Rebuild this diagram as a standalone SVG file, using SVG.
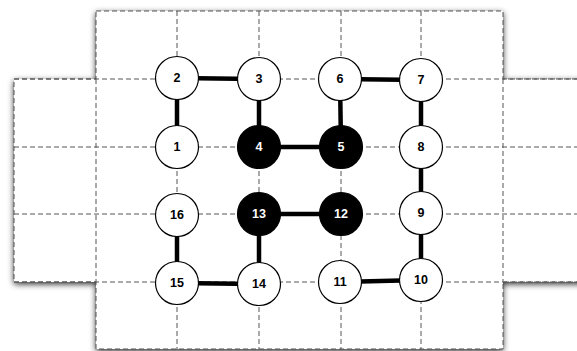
<svg xmlns="http://www.w3.org/2000/svg" width="577" height="351" viewBox="0 0 577 351">
<defs>
<filter id="sh" x="-10%" y="-10%" width="120%" height="120%">
<feDropShadow dx="0" dy="2" stdDeviation="3" flood-color="#000" flood-opacity="0.85"/>
</filter>
<style>
.grid{stroke:#555;stroke-width:1;stroke-dasharray:5,3;fill:none}
.edge{stroke:#000;stroke-width:4.5;stroke-linecap:butt}
.n circle{stroke:#000;stroke-width:1.2;fill:#fff}
.n text{font-family:"Liberation Sans",Arial,sans-serif;font-weight:bold;font-size:12.5px;text-anchor:middle;dominant-baseline:central;fill:#000}
.f circle{fill:#000}
.f text{fill:#fff}
</style>
</defs>
<rect width="577" height="351" fill="#fff"/>
<path d="M96,11 H503 V79 H595 V282 H503 V349 H96 V282 H14 V79 H96 Z" fill="#fff" filter="url(#sh)"/>
<g id="grid" class="grid">
<path d="M96,11 H503 V79 H595 V282 H503 V349 H96 V282 H14 V79 H96 Z"/>
<path d="M96,79 V282 M503,79 V282 M177,11 V349 M259,11 V349 M341,11 V349 M421,11 V349"/>
<path d="M14,79 H577 M14,147 H577 M14,214 H577 M14,282 H577"/>
</g>
<g id="connectors" class="edge">
<line x1="177" y1="78" x2="259" y2="79"/>
<line x1="177" y1="78" x2="177" y2="147"/>
<line x1="259" y1="79" x2="259" y2="147"/>
<line x1="259" y1="147" x2="341" y2="147"/>
<line x1="341" y1="147" x2="340" y2="79"/>
<line x1="340" y1="79" x2="421" y2="80"/>
<line x1="421" y1="80" x2="421" y2="147"/>
<line x1="421" y1="147" x2="421" y2="213"/>
<line x1="421" y1="213" x2="421" y2="280"/>
<line x1="421" y1="280" x2="340" y2="282"/>
<line x1="259" y1="214" x2="341" y2="214"/>
<line x1="259" y1="214" x2="259" y2="284"/>
<line x1="259" y1="284" x2="177" y2="283"/>
<line x1="177" y1="283" x2="177" y2="215"/>
</g>
<g id="n1" class="n"><circle cx="177" cy="147" r="21.5"/><text x="177" y="147">1</text></g>
<g id="n2" class="n"><circle cx="177" cy="78" r="21.5"/><text x="177" y="78">2</text></g>
<g id="n3" class="n"><circle cx="259" cy="79" r="21.5"/><text x="259" y="79">3</text></g>
<g id="n4" class="n f"><circle cx="259" cy="147" r="21.5"/><text x="259" y="147">4</text></g>
<g id="n5" class="n f"><circle cx="341" cy="147" r="21.5"/><text x="341" y="147">5</text></g>
<g id="n6" class="n"><circle cx="340" cy="79" r="21.5"/><text x="340" y="79">6</text></g>
<g id="n7" class="n"><circle cx="421" cy="80" r="21.5"/><text x="421" y="80">7</text></g>
<g id="n8" class="n"><circle cx="421" cy="147" r="21.5"/><text x="421" y="147">8</text></g>
<g id="n9" class="n"><circle cx="421" cy="213" r="21.5"/><text x="421" y="213">9</text></g>
<g id="n10" class="n"><circle cx="421" cy="280" r="21.5"/><text x="421" y="280">10</text></g>
<g id="n11" class="n"><circle cx="340" cy="282" r="21.5"/><text x="340" y="282">11</text></g>
<g id="n12" class="n f"><circle cx="341" cy="214" r="21.5"/><text x="341" y="214">12</text></g>
<g id="n13" class="n f"><circle cx="259" cy="214" r="21.5"/><text x="259" y="214">13</text></g>
<g id="n14" class="n"><circle cx="259" cy="284" r="21.5"/><text x="259" y="284">14</text></g>
<g id="n15" class="n"><circle cx="177" cy="283" r="21.5"/><text x="177" y="283">15</text></g>
<g id="n16" class="n"><circle cx="177" cy="215" r="21.5"/><text x="177" y="215">16</text></g>
</svg>
